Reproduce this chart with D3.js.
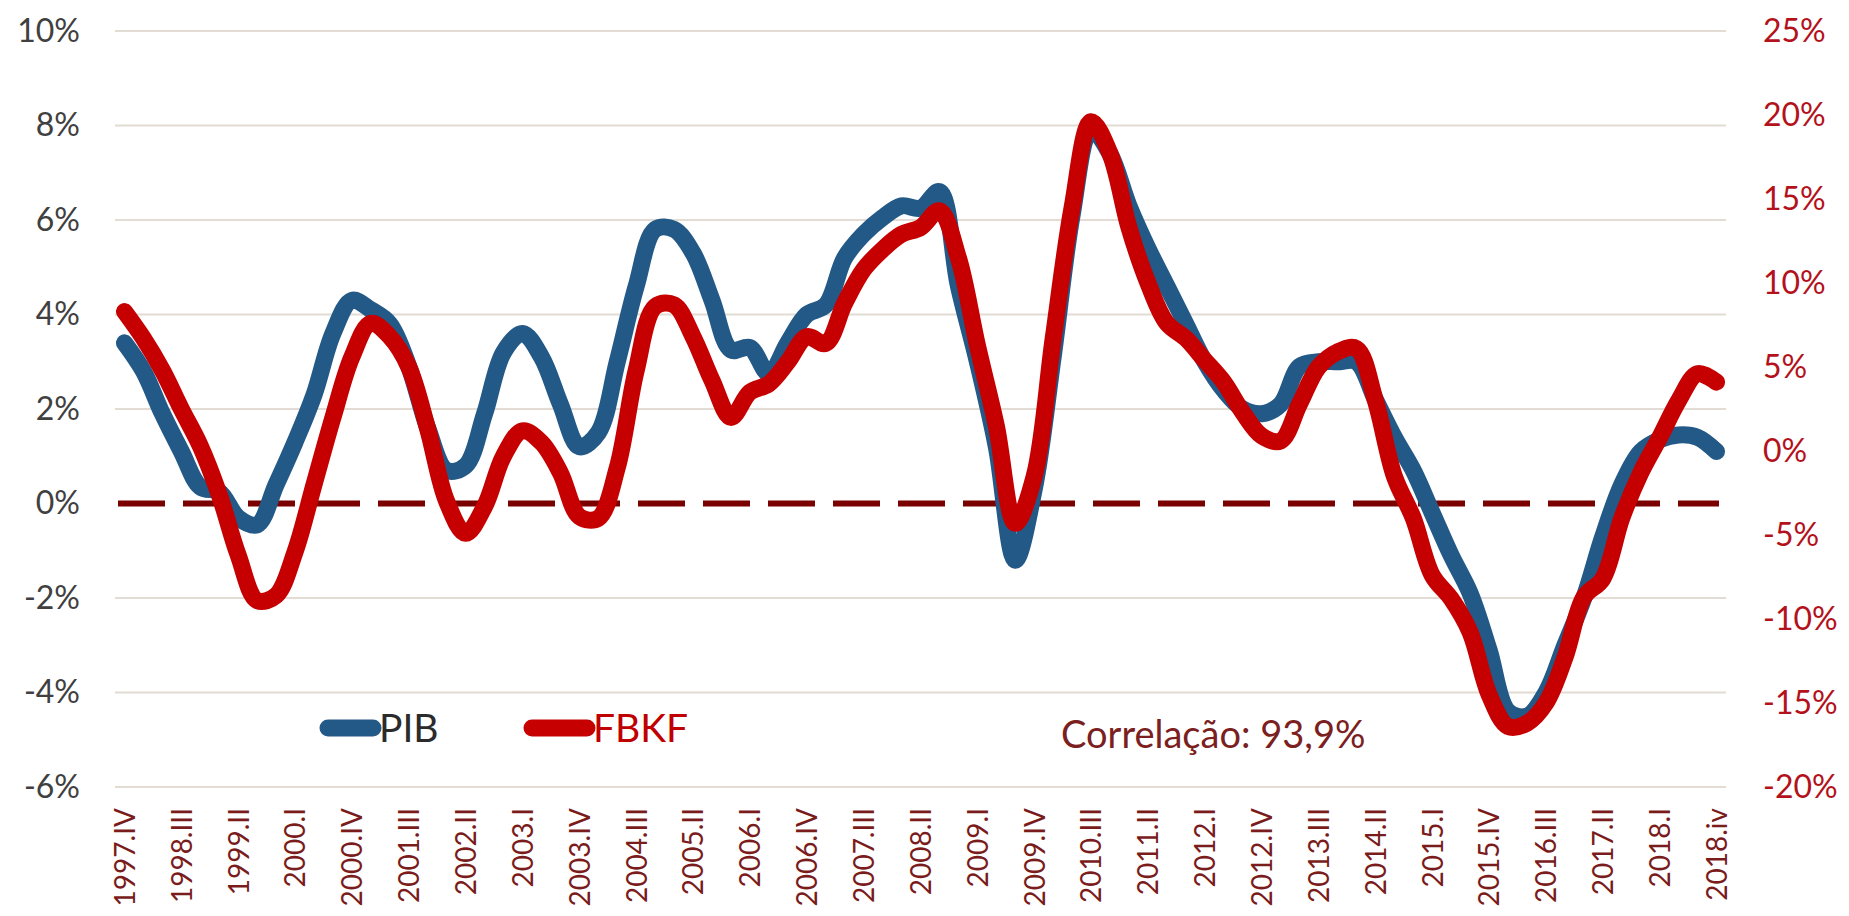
<!DOCTYPE html>
<html>
<head>
<meta charset="utf-8">
<script src="https://cdn.jsdelivr.net/npm/d3@7"></script>
<style>
  html, body { margin: 0; padding: 0; background: #fff; }
  svg { display: block; font-family: Lato, 'Open Sans', sans-serif; }
</style>
</head>
<body>
<div id="chart"></div>
<script>
// Data
var quarters = [
  '1997.IV',
  '1998.I','1998.II','1998.III','1998.IV',
  '1999.I','1999.II','1999.III','1999.IV',
  '2000.I','2000.II','2000.III','2000.IV',
  '2001.I','2001.II','2001.III','2001.IV',
  '2002.I','2002.II','2002.III','2002.IV',
  '2003.I','2003.II','2003.III','2003.IV',
  '2004.I','2004.II','2004.III','2004.IV',
  '2005.I','2005.II','2005.III','2005.IV',
  '2006.I','2006.II','2006.III','2006.IV',
  '2007.I','2007.II','2007.III','2007.IV',
  '2008.I','2008.II','2008.III','2008.IV',
  '2009.I','2009.II','2009.III','2009.IV',
  '2010.I','2010.II','2010.III','2010.IV',
  '2011.I','2011.II','2011.III','2011.IV',
  '2012.I','2012.II','2012.III','2012.IV',
  '2013.I','2013.II','2013.III','2013.IV',
  '2014.I','2014.II','2014.III','2014.IV',
  '2015.I','2015.II','2015.III','2015.IV',
  '2016.I','2016.II','2016.III','2016.IV',
  '2017.I','2017.II','2017.III','2017.IV',
  '2018.I','2018.II','2018.III','2018.iv'
];

var tick_labels = [
  '1997.IV','1998.III','1999.II','2000.I','2000.IV','2001.III','2002.II','2003.I',
  '2003.IV','2004.III','2005.II','2006.I','2006.IV','2007.III','2008.II','2009.I',
  '2009.IV','2010.III','2011.II','2012.I','2012.IV','2013.III','2014.II','2015.I',
  '2015.IV','2016.III','2017.II','2018.I','2018.iv'
];

// PIB, % (left axis)
var pib = [
  3.4,
  2.8, 1.9, 1.1, 0.35,
  0.25, -0.3, -0.45, 0.4,
  1.3, 2.3, 3.6, 4.3,
  4.1, 3.8, 2.9, 1.6,
  0.7, 0.8, 1.9, 3.2,
  3.6, 3.1, 2.1, 1.2,
  1.5, 3.0, 4.6, 5.8,
  5.8, 5.3, 4.3, 3.25,
  3.3, 2.75, 3.4, 4.0,
  4.2, 5.2, 5.7, 6.05,
  6.3, 6.25, 6.6, 4.6,
  3.0, 1.2, -1.2, 0.3,
  3.1, 6.1, 7.9, 7.4,
  6.3, 5.4, 4.6, 3.8,
  3.0, 2.4, 2.0, 1.9,
  2.1, 2.9, 3.0, 3.0,
  3.0, 2.2, 1.4, 0.7,
  -0.2, -1.1, -1.9, -3.1,
  -4.4, -4.5, -4.0, -3.0,
  -2.0, -0.7, 0.4, 1.1,
  1.35, 1.45, 1.4, 1.1
];

// FBKF, % (right axis)
var fbkf = [
  8.3,
  6.7, 4.8, 2.5, 0.3,
  -2.6, -6.2, -8.9, -8.6,
  -6.0, -2.0, 2.0, 5.6,
  7.6, 6.8, 5.0, 1.3,
  -3.0, -4.9, -3.3, -0.3,
  1.2, 0.5, -1.3, -3.9,
  -4.0, -1.0, 4.8, 8.6,
  8.7, 6.8, 4.2, 2.0,
  3.5, 4.0, 5.3, 6.8,
  6.4, 8.8, 10.8, 12.0,
  12.9, 13.3, 14.3, 11.5,
  6.3, 1.5, -4.3, -1.5,
  6.7, 14.5, 19.6, 17.7,
  13.3, 10.0, 7.6, 6.7,
  5.4, 4.1, 2.3, 0.9,
  0.6, 2.8, 5.0, 5.9,
  6.1, 3.0, -1.5, -4.0,
  -7.4, -8.8, -10.8, -14.5,
  -16.4, -16.2, -15.0, -12.3,
  -8.7, -7.6, -4.0, -1.3,
  0.8, 3.0, 4.6, 4.1
];

var left_ticks  = [-6, -4, -2, 0, 2, 4, 6, 8, 10];
var right_ticks = [-20, -15, -10, -5, 0, 5, 10, 15, 20, 25];
var correlation_text = 'Correlação: 93,9%';

// The SVG Element
var chart_width  = 1849;
var chart_height = 916;

var plot = { left: 115, right: 1726, top: 31, bottom: 787 };

var svg = d3.select('#chart')
    .append('svg')
    .attr('width', chart_width)
    .attr('height', chart_height);

// Scales
var x = d3.scalePoint()
    .domain(quarters)
    .range([plot.left, plot.right])
    .padding(0.5);

var y_left = d3.scaleLinear()
    .domain([-6, 10])
    .range([plot.bottom, plot.top]);

var y_right = d3.scaleLinear()
    .domain([-20, 25])
    .range([plot.bottom, plot.top]);

// Gridlines
svg.append('g')
    .selectAll('line')
    .data(left_ticks.filter(function(d){ return d !== 0; }))
    .enter()
    .append('line')
    .attr('x1', plot.left)
    .attr('x2', plot.right)
    .attr('y1', function(d){ return y_left(d); })
    .attr('y2', function(d){ return y_left(d); })
    .attr('stroke', '#e2dcd4')
    .attr('stroke-width', 2);

// Left axis
var left_axis = svg.append('g')
    .attr('transform', 'translate(80,0)')
    .call(d3.axisLeft(y_left).tickValues(left_ticks).tickSize(0).tickPadding(0)
        .tickFormat(function(d){ return d + '%'; }));
left_axis.select('.domain').remove();
left_axis.selectAll('text')
    .attr('fill', '#404040')
    .attr('font-size', 32)
    .attr('font-family', 'Lato, sans-serif');

// Right axis
var right_axis = svg.append('g')
    .attr('transform', 'translate(1763,0)')
    .call(d3.axisRight(y_right).tickValues(right_ticks).tickSize(0).tickPadding(0)
        .tickFormat(function(d){ return d + '%'; }));
right_axis.select('.domain').remove();
right_axis.selectAll('text')
    .attr('fill', '#b3121c')
    .attr('font-size', 32)
    .attr('font-family', 'Lato, sans-serif');

// Bottom axis (rotated labels)
var bottom_axis = svg.append('g')
    .attr('transform', 'translate(0,808)')
    .call(d3.axisBottom(x).tickValues(tick_labels).tickSize(0).tickPadding(0));
bottom_axis.select('.domain').remove();
bottom_axis.selectAll('text')
    .attr('fill', '#7a1c1c')
    .attr('font-size', 28)
    .attr('font-family', 'Lato, sans-serif')
    .attr('text-anchor', 'end')
    .attr('dy', '0.35em')
    .attr('transform', 'rotate(-90)')
    .attr('x', 0)
    .attr('y', 0);

// Zero line
svg.append('line')
    .attr('x1', plot.left + 3)
    .attr('x2', plot.right - 7)
    .attr('y1', y_left(0))
    .attr('y2', y_left(0))
    .attr('stroke', '#7b0000')
    .attr('stroke-width', 6)
    .attr('stroke-dasharray', '47,18');

// Lines
var pib_line = d3.line()
    .x(function(d, i){ return x(quarters[i]); })
    .y(function(d){ return y_left(d); })
    .curve(d3.curveCatmullRom.alpha(0.5));

var fbkf_line = d3.line()
    .x(function(d, i){ return x(quarters[i]); })
    .y(function(d){ return y_right(d); })
    .curve(d3.curveCatmullRom.alpha(0.5));

svg.append('path')
    .datum(pib)
    .attr('d', pib_line)
    .attr('fill', 'none')
    .attr('stroke', '#235987')
    .attr('stroke-width', 17)
    .attr('stroke-linecap', 'round')
    .attr('stroke-linejoin', 'round');

svg.append('path')
    .datum(fbkf)
    .attr('d', fbkf_line)
    .attr('fill', 'none')
    .attr('stroke', '#c60000')
    .attr('stroke-width', 17)
    .attr('stroke-linecap', 'round')
    .attr('stroke-linejoin', 'round');

// Legend
var legend = svg.append('g').attr('transform', 'translate(328,728)');

legend.append('line')
    .attr('x1', 0).attr('x2', 45)
    .attr('stroke', '#235987').attr('stroke-width', 17)
    .attr('stroke-linecap', 'round');
legend.append('text')
    .attr('x', 51).attr('dy', '0.36em')
    .attr('font-size', 39)
    .attr('fill', '#2b2b2b')
    .text('PIB');

legend.append('line')
    .attr('x1', 204).attr('x2', 259)
    .attr('stroke', '#c60000').attr('stroke-width', 17)
    .attr('stroke-linecap', 'round');
legend.append('text')
    .attr('x', 265).attr('dy', '0.36em')
    .attr('font-size', 39)
    .attr('fill', '#c00000')
    .text('FBKF');

// Correlation note
svg.append('text')
    .attr('x', 1061)
    .attr('y', 748)
    .attr('font-size', 38)
    .attr('fill', '#7b2020')
    .text(correlation_text);
</script>
</body>
</html>
